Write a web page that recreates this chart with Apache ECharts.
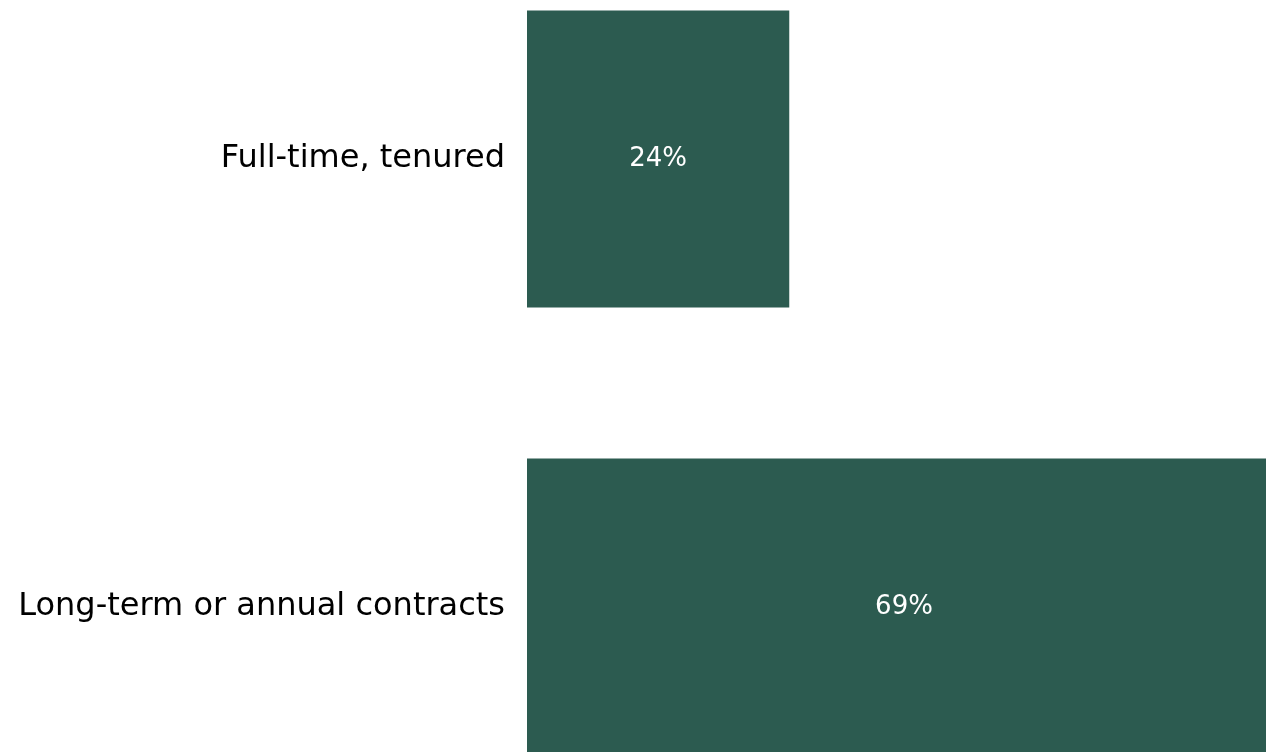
<!DOCTYPE html>
<html>
<head>
<meta charset="utf-8">
<script src="https://cdn.jsdelivr.net/npm/echarts@6/dist/echarts.min.js"></script>
<style>
  html, body { margin: 0; padding: 0; background: #fff; }
  #chart { width: 1266px; height: 752px; }
</style>
</head>
<body>
<div id="chart"></div>
<script>
const categories = ['Full-time, tenured', 'Long-term or annual contracts'];
const shares = [24, 69];

const chart = echarts.init(document.getElementById('chart'));
const option = {
  animation: false,
  grid: {
    left: 527,
    right: -15,
    top: -65,
    bottom: -79,
    outerBoundsMode: 'none',
    containLabel: false
  },
  xAxis: {
    type: 'value',
    min: 0,
    max: 69,
    show: false
  },
  yAxis: {
    type: 'category',
    data: categories,
    inverse: true,
    axisLine: { show: false },
    axisTick: { show: false },
    axisLabel: {
      margin: 22,
      color: '#000',
      fontFamily: 'DejaVu Sans',
      fontSize: 32
    }
  },
  series: [
    {
      type: 'bar',
      data: shares,
      barCategoryGap: '33.7%',
      itemStyle: { color: '#2c5b50' },
      label: {
        show: true,
        position: 'inside',
        color: '#fff',
        fontFamily: 'DejaVu Sans',
        fontSize: 26,
        formatter: p => p.value + '%'
      }
    }
  ]
};
chart.setOption(option);
</script>
</body>
</html>
